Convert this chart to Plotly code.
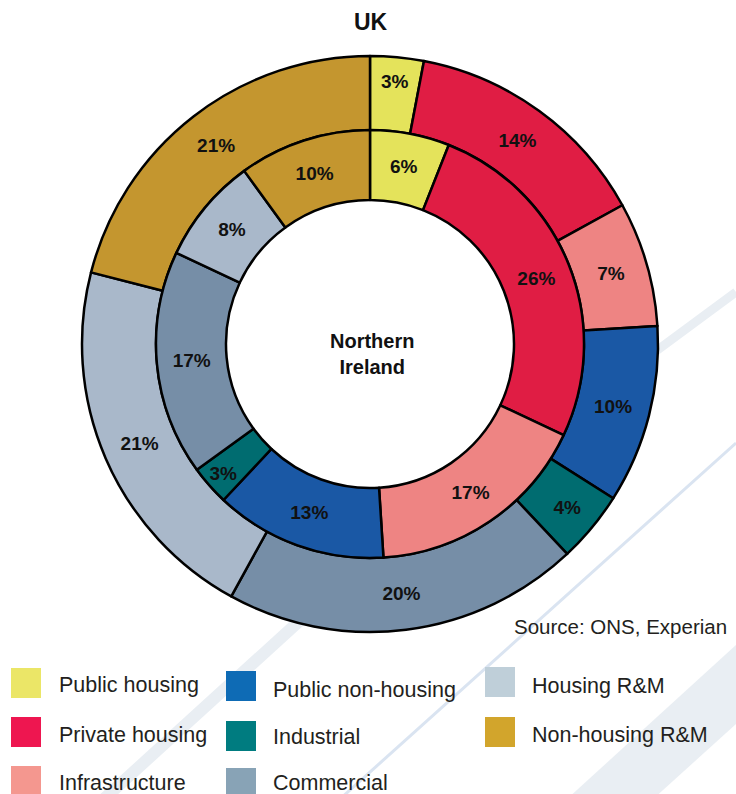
import plotly.graph_objects as go

W, H = 736, 794

categories = ["Public housing", "Private housing", "Infrastructure", "Public non-housing",
              "Industrial", "Commercial", "Housing R&M", "Non-housing R&M"]
uk_values = [3, 14, 7, 10, 4, 20, 21, 21]
ni_values = [6, 26, 17, 13, 3, 17, 8, 10]

slice_colors = ["#E4E35B", "#E01D44", "#EE8483", "#1A58A5",
                "#006C70", "#768EA7", "#A9B8CA", "#C4962F"]
legend_colors = ["#EBE667", "#EE1650", "#F4978F", "#0E6BB5",
                 "#007C80", "#88A3B6", "#BFCFD9", "#D2A52C"]

title_outer = "UK"
title_inner = ["Northern", "Ireland"]
source_text = "Source: ONS, Experian"

FONT = "Liberation Sans, Arial, sans-serif"


def px(x):
    return x / W


def py(y):
    return 1 - y / H


cx, cy = 370, 344
R_out, R_mid, R_hole = 288, 214, 144

fig = go.Figure()

label_font = dict(family=FONT, size=19, color="#111111", weight="bold")

fig.add_trace(go.Pie(
    labels=categories, values=uk_values, sort=False, direction="clockwise", rotation=0,
    hole=R_mid / R_out,
    domain=dict(x=[px(cx - R_out), px(cx + R_out)], y=[py(cy + R_out), py(cy - R_out)]),
    marker=dict(colors=slice_colors, line=dict(color="#000000", width=2.5)),
    texttemplate="%{value}%", textposition="inside", insidetextorientation="horizontal",
    insidetextfont=label_font, hoverinfo="label+value", showlegend=False,
))

fig.add_trace(go.Pie(
    labels=categories, values=ni_values, sort=False, direction="clockwise", rotation=0,
    hole=R_hole / R_mid,
    domain=dict(x=[px(cx - R_mid), px(cx + R_mid)], y=[py(cy + R_mid), py(cy - R_mid)]),
    marker=dict(colors=slice_colors, line=dict(color="#000000", width=2.5)),
    texttemplate="%{value}%", textposition="inside", insidetextorientation="horizontal",
    insidetextfont=label_font, hoverinfo="label+value", showlegend=False,
))

shapes = []
# decorative background stripes
stripe_light = "#E9EEF3"
shapes.append(dict(type="line", xref="paper", yref="paper", layer="below",
                   x0=px(736), y0=py(292), x1=px(560), y1=py(422),
                   line=dict(color=stripe_light, width=9)))
shapes.append(dict(type="line", xref="paper", yref="paper", layer="below",
                   x0=px(340), y0=py(584), x1=px(95), y1=py(807),
                   line=dict(color=stripe_light, width=12)))
shapes.append(dict(type="line", xref="paper", yref="paper", layer="below",
                   x0=px(736), y0=py(443), x1=px(330), y1=py(808),
                   line=dict(color="#DAE4F1", width=3)))
shapes.append(dict(type="path", xref="paper", yref="paper", layer="below",
                   path=f"M {px(736)} {py(645)} L {px(566)} {py(800)} L {px(652)} {py(800)} L {px(736)} {py(724)} Z",
                   fillcolor=stripe_light, line=dict(width=0)))

annotations = []
annotations.append(dict(text=f"<b>{title_outer}</b>", x=px(371), y=py(22), xref="paper", yref="paper",
                        xanchor="center", yanchor="middle",
                        showarrow=False, font=dict(family=FONT, size=23, color="#111111")))
annotations.append(dict(text="<b>" + "<br>".join(title_inner) + "</b>",
                        x=px(372), y=py(354), xref="paper", yref="paper",
                        xanchor="center", yanchor="middle",
                        showarrow=False, font=dict(family=FONT, size=20, color="#111111")))
annotations.append(dict(text=source_text, x=px(729), y=py(626), xref="paper", yref="paper",
                        xanchor="right", yanchor="middle",
                        showarrow=False, font=dict(family=FONT, size=20.5, color="#231F20")))

# legend laid out in three columns
legend_cols = [
    dict(sq_x=11, text_x=57, rows=[(668, 685), (717, 735), (766, 783)], idx=[0, 1, 2]),
    dict(sq_x=226, text_x=271, rows=[(671, 690), (721, 737), (768, 783)], idx=[3, 4, 5]),
    dict(sq_x=485, text_x=530, rows=[(667, 686), (717, 735)], idx=[6, 7]),
]
for col in legend_cols:
    for (sq_y, txt_y), i in zip(col["rows"], col["idx"]):
        shapes.append(dict(type="rect", xref="paper", yref="paper",
                           x0=px(col["sq_x"]), x1=px(col["sq_x"] + 30),
                           y0=py(sq_y + 30), y1=py(sq_y),
                           fillcolor=legend_colors[i], line=dict(width=0)))
        annotations.append(dict(text=categories[i], x=px(col["text_x"]), y=py(txt_y),
                                xref="paper", yref="paper", xanchor="left", yanchor="middle",
                                showarrow=False, font=dict(family=FONT, size=21.5, color="#231F20")))

fig.update_layout(
    width=W, height=H, margin=dict(l=0, r=0, t=0, b=0),
    paper_bgcolor="white", plot_bgcolor="white",
    shapes=shapes, annotations=annotations, showlegend=False,
)

fig.write_html("out.html")
